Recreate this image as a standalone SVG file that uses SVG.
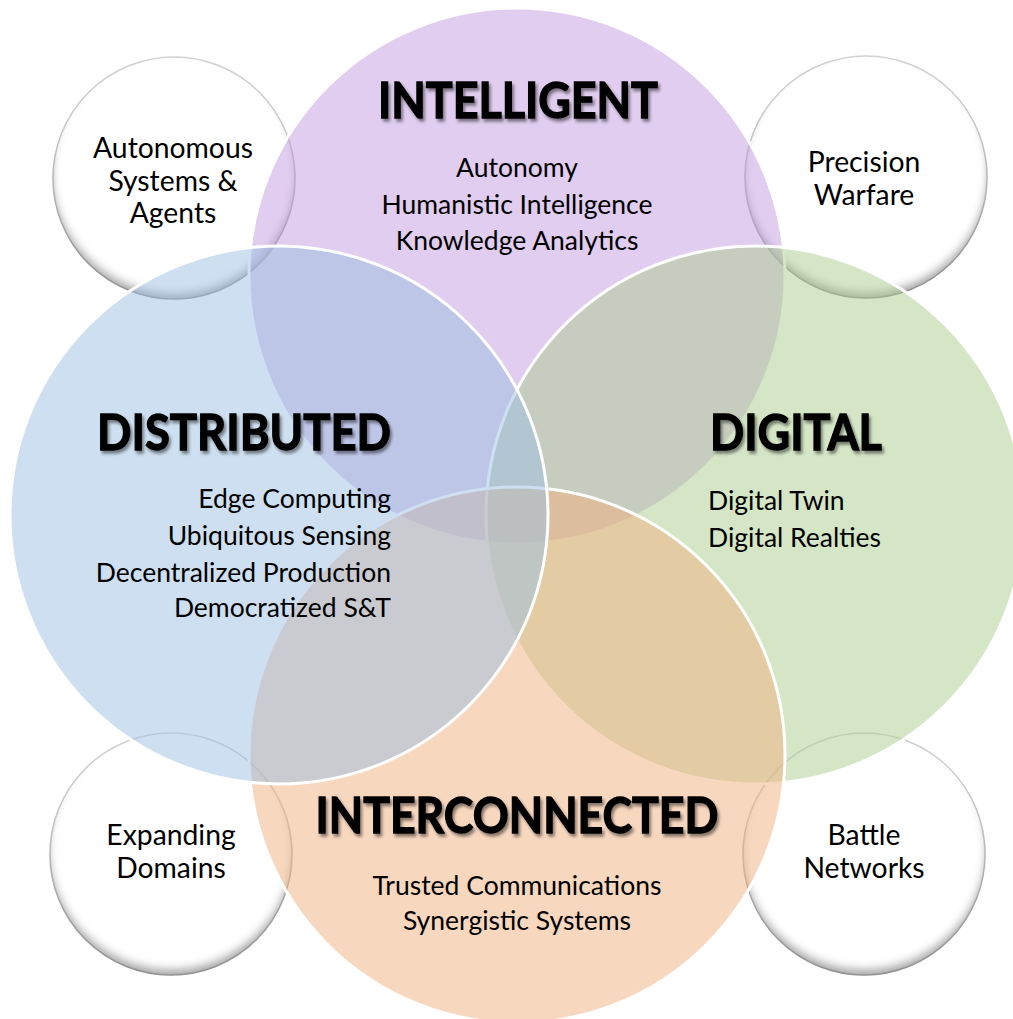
<svg xmlns="http://www.w3.org/2000/svg" width="1013" height="1019" viewBox="0 0 1013 1019">
<defs>
<filter id="inner" x="-10%" y="-10%" width="120%" height="120%">
<feGaussianBlur in="SourceAlpha" stdDeviation="4.5" result="b"/>
<feOffset in="b" dy="-7" result="o"/>
<feComposite in="SourceAlpha" in2="o" operator="out" result="s"/>
<feFlood flood-color="#000" flood-opacity="0.6"/>
<feComposite in2="s" operator="in" result="shadow"/>
<feMerge><feMergeNode in="SourceGraphic"/><feMergeNode in="shadow"/></feMerge>
</filter>
<filter id="tshadow" x="-10%" y="-30%" width="120%" height="160%">
<feDropShadow dx="2" dy="3" stdDeviation="1.8" flood-color="#000" flood-opacity="0.45"/>
</filter>
</defs>
<style>
.small{fill:#fff;stroke:#d4d4d4;stroke-width:1.5;filter:url(#inner)}
.big{stroke:#fff;stroke-width:3;fill-opacity:0.5}
.head{font-family:Lato,"Liberation Sans",sans-serif;font-weight:bold;font-size:50px;fill:#000;stroke:#000;stroke-width:1.3;filter:url(#tshadow)}
.body{font-family:Lato,"Liberation Sans",sans-serif;font-size:26.5px;fill:#000}
.lab{font-family:Lato,"Liberation Sans",sans-serif;font-size:28.3px;fill:#000;text-anchor:middle}
.mid{text-anchor:middle}
.end{text-anchor:end}
</style>
<g id="node-autonomous">
<circle class="small" cx="174" cy="178" r="121"/>
<text class="lab" x="173" y="158">Autonomous</text>
<text class="lab" x="173" y="191">Systems &amp;</text>
<text class="lab" x="173" y="223">Agents</text>
</g>
<g id="node-precision">
<circle class="small" cx="866" cy="177" r="121"/>
<text class="lab" x="864" y="172">Precision</text>
<text class="lab" x="864" y="205">Warfare</text>
</g>
<g id="node-expanding">
<circle class="small" cx="171" cy="854" r="121"/>
<text class="lab" x="171" y="845">Expanding</text>
<text class="lab" x="171" y="878">Domains</text>
</g>
<g id="node-battle">
<circle class="small" cx="864" cy="854" r="121"/>
<text class="lab" x="864" y="845">Battle</text>
<text class="lab" x="864" y="878">Networks</text>
</g>
<g id="node-intelligent">
<circle class="big" cx="517" cy="276" r="268" fill="#C19BDF"/>
<text class="head mid" x="518" y="118" textLength="280" lengthAdjust="spacingAndGlyphs">INTELLIGENT</text>
<text class="body mid" x="517" y="177">Autonomy</text>
<text class="body mid" x="517" y="214">Humanistic Intelligence</text>
<text class="body mid" x="517" y="250">Knowledge Analytics</text>
</g>
<g id="node-digital">
<circle class="big" cx="755" cy="515" r="269" fill="#ABCD8F"/>
<text class="head" x="710" y="450" textLength="172" lengthAdjust="spacingAndGlyphs">DIGITAL</text>
<text class="body" x="708" y="510">Digital Twin</text>
<text class="body" x="708" y="547">Digital Realties</text>
</g>
<g id="node-interconnected">
<circle class="big" cx="517" cy="755" r="268" fill="#F1AF7F"/>
<text class="head mid" x="517" y="833" textLength="403" lengthAdjust="spacingAndGlyphs">INTERCONNECTED</text>
<text class="body mid" x="517" y="895">Trusted Communications</text>
<text class="body mid" x="517" y="930">Synergistic Systems</text>
</g>
<g id="node-distributed">
<circle class="big" cx="279" cy="515" r="269" fill="#9BBFE1"/>
<text class="head end" x="391" y="450" textLength="294" lengthAdjust="spacingAndGlyphs">DISTRIBUTED</text>
<text class="body end" x="391" y="508">Edge Computing</text>
<text class="body end" x="391" y="545">Ubiquitous Sensing</text>
<text class="body end" x="391" y="582">Decentralized Production</text>
<text class="body end" x="391" y="617">Democratized S&amp;T</text>
</g>
</svg>
